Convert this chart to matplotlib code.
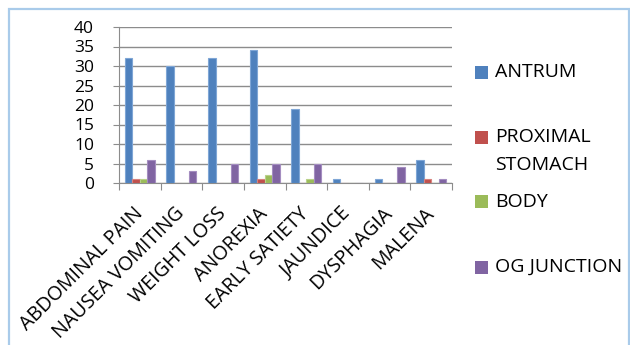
import textwrap
import numpy as np
import matplotlib
matplotlib.use("Agg")
import matplotlib.pyplot as plt
from matplotlib.patches import Rectangle

categories = ["ABDOMINAL PAIN", "NAUSEA VOMITING", "WEIGHT LOSS", "ANOREXIA",
              "EARLY SATIETY", "JAUNDICE", "DYSPHAGIA", "MALENA"]
series_names = ["ANTRUM", "PROXIMAL STOMACH", "BODY", "OG JUNCTION"]
antrum = [32, 30, 32, 34, 19, 1, 1, 6]
proximal_stomach = [1, 0, 0, 1, 0, 0, 0, 1]
body = [1, 0, 0, 2, 1, 0, 0, 0]
og_junction = [6, 3, 5, 5, 5, 0, 4, 1]
yticks = [0, 5, 10, 15, 20, 25, 30, 35, 40]

series_values = [antrum, proximal_stomach, body, og_junction]
colors = ["#4F81BD", "#C0504D", "#9BBB59", "#8064A2"]
edges = ["#7FA6D6", "#D8837F", "#B9D28A", "#A48DC0"]

plt.rcParams['font.family'] = ['Open Sans', 'DejaVu Sans']

W, H = 630, 345
fig = plt.figure(figsize=(W / 100, H / 100), dpi=100)
fig.patch.set_facecolor("white")

# outer chart border
fig.add_artist(Rectangle((9 / W, -0.05), (629 - 9) / W, (H - 9) / H + 0.05,
                         transform=fig.transFigure, fill=False,
                         edgecolor="#A9CBEA", linewidth=1.6))

ax = fig.add_axes([119 / W, 1 - 183 / H, (452 - 119) / W, (183 - 27) / H])
x = np.arange(len(categories))
bw = 0.18
for i, (vals, c, e) in enumerate(zip(series_values, colors, edges)):
    ax.bar(x + (i - 1.5) * bw, vals, width=bw, color=c, edgecolor=e,
           linewidth=0.8, zorder=3)

ax.set_xlim(-0.5, len(categories) - 0.5)
ax.set_ylim(0, 40)
ax.set_yticks(yticks)
ax.set_yticklabels([str(v) for v in yticks], fontsize=12.5)
ax.yaxis.grid(True, color="#8C8C8C", linewidth=1.0, zorder=0)
ax.set_axisbelow(True)

ax.set_xticks(x)
ax.set_xticklabels(categories, rotation=45, ha="right", va="center",
                   rotation_mode="anchor", fontsize=14.2)
ax.tick_params(axis="x", which="major", length=0, pad=20)
ax.set_xticks(np.arange(-0.5, len(categories), 1.0), minor=True)
ax.tick_params(axis="x", which="minor", length=5, width=0.8, color="#8C8C8C",
               direction="out")
ax.tick_params(axis="y", length=4.3, width=0.8, color="#8C8C8C", pad=13.7)

for s in ["top", "right"]:
    ax.spines[s].set_visible(False)
ax.spines["left"].set_color("#8C8C8C")
ax.spines["bottom"].set_color("#8C8C8C")
ax.spines["left"].set_linewidth(0.8)
ax.spines["bottom"].set_linewidth(0.8)

# legend
leg_y = [72, 137, 202, 267]
for name, c, yc in zip(series_names, colors, leg_y):
    fig.add_artist(Rectangle((475 / W, 1 - (yc + 6.5) / H), 13 / W, 13 / H,
                             transform=fig.transFigure, facecolor=c,
                             edgecolor="none"))
    for k, line in enumerate(textwrap.wrap(name, 11)):
        fig.text(495 / W, 1 - (yc + 28 * k) / H, line, fontsize=14,
                 va="center", ha="left", color="#000000")

fig.savefig("out.png", dpi=100, facecolor="white")
